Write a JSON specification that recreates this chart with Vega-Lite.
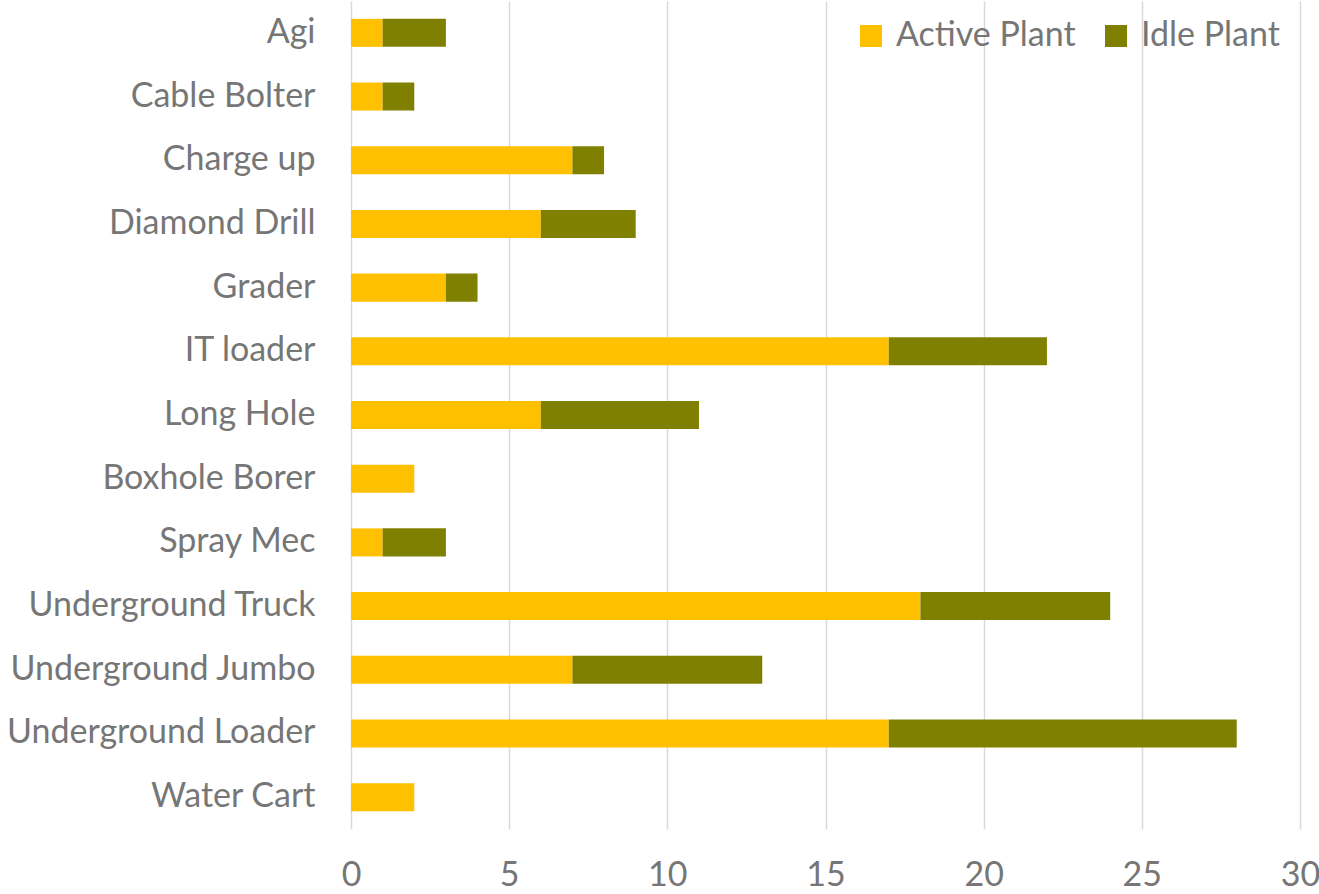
{
  "$schema": "https://vega.github.io/schema/vega-lite/v6.json",
  "autosize": "none",
  "padding": {"left": 351, "top": 1, "right": 19, "bottom": 65},
  "width": 949,
  "height": 828,
  "background": "white",
  "config": {
    "view": {"stroke": null},
    "font": "Lato"
  },
  "data": {
    "values": [
      {"equipment": "Agi", "status": "Active Plant", "count": 1, "ord": 1},
      {"equipment": "Agi", "status": "Idle Plant", "count": 2, "ord": 2},
      {"equipment": "Cable Bolter", "status": "Active Plant", "count": 1, "ord": 1},
      {"equipment": "Cable Bolter", "status": "Idle Plant", "count": 1, "ord": 2},
      {"equipment": "Charge up", "status": "Active Plant", "count": 7, "ord": 1},
      {"equipment": "Charge up", "status": "Idle Plant", "count": 1, "ord": 2},
      {"equipment": "Diamond Drill", "status": "Active Plant", "count": 6, "ord": 1},
      {"equipment": "Diamond Drill", "status": "Idle Plant", "count": 3, "ord": 2},
      {"equipment": "Grader", "status": "Active Plant", "count": 3, "ord": 1},
      {"equipment": "Grader", "status": "Idle Plant", "count": 1, "ord": 2},
      {"equipment": "IT loader", "status": "Active Plant", "count": 17, "ord": 1},
      {"equipment": "IT loader", "status": "Idle Plant", "count": 5, "ord": 2},
      {"equipment": "Long Hole", "status": "Active Plant", "count": 6, "ord": 1},
      {"equipment": "Long Hole", "status": "Idle Plant", "count": 5, "ord": 2},
      {"equipment": "Boxhole Borer", "status": "Active Plant", "count": 2, "ord": 1},
      {"equipment": "Boxhole Borer", "status": "Idle Plant", "count": 0, "ord": 2},
      {"equipment": "Spray Mec", "status": "Active Plant", "count": 1, "ord": 1},
      {"equipment": "Spray Mec", "status": "Idle Plant", "count": 2, "ord": 2},
      {"equipment": "Underground Truck", "status": "Active Plant", "count": 18, "ord": 1},
      {"equipment": "Underground Truck", "status": "Idle Plant", "count": 6, "ord": 2},
      {"equipment": "Underground Jumbo", "status": "Active Plant", "count": 7, "ord": 1},
      {"equipment": "Underground Jumbo", "status": "Idle Plant", "count": 6, "ord": 2},
      {"equipment": "Underground Loader", "status": "Active Plant", "count": 17, "ord": 1},
      {"equipment": "Underground Loader", "status": "Idle Plant", "count": 11, "ord": 2},
      {"equipment": "Water Cart", "status": "Active Plant", "count": 2, "ord": 1},
      {"equipment": "Water Cart", "status": "Idle Plant", "count": 0, "ord": 2}
    ]
  },
  "mark": {"type": "bar"},
  "encoding": {
    "y": {
      "field": "equipment",
      "type": "nominal",
      "sort": null,
      "scale": {"paddingInner": 0.56, "paddingOuter": 0.28},
      "axis": {
        "title": null,
        "ticks": false,
        "domain": false,
        "labelFontSize": 34,
        "labelColor": "#767676",
        "labelPadding": 36,
        "labelLimit": 400
      }
    },
    "x": {
      "field": "count",
      "type": "quantitative",
      "stack": "zero",
      "scale": {"domain": [0, 30], "nice": false},
      "axis": {
        "title": null,
        "values": [0, 5, 10, 15, 20, 25, 30],
        "ticks": false,
        "domain": false,
        "grid": true,
        "gridColor": "#d9d9d9",
        "gridWidth": 1.5,
        "labelFontSize": 34,
        "labelColor": "#767676",
        "labelPadding": 29,
        "labelFlush": false
      }
    },
    "order": {"field": "ord", "type": "quantitative"},
    "color": {
      "field": "status",
      "type": "nominal",
      "scale": {"domain": ["Active Plant", "Idle Plant"], "range": ["#FFC000", "#808000"]},
      "legend": {
        "title": null,
        "orient": "none",
        "legendX": 503,
        "legendY": 18,
        "direction": "horizontal",
        "symbolType": "square",
        "symbolSize": 484,
        "symbolStrokeWidth": 0,
        "labelFontSize": 34,
        "labelColor": "#767676",
        "labelOffset": 8,
        "labelLimit": 400,
        "columnPadding": 23
      }
    }
  }
}
